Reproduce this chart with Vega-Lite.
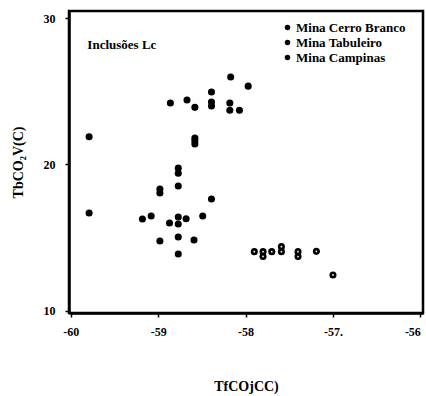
{
  "$schema": "https://vega.github.io/schema/vega-lite/v6.json",
  "autosize": "none",
  "width": 354,
  "height": 302,
  "padding": {"left": 69, "top": 11, "right": 3, "bottom": 83},
  "background": "white",
  "config": {
    "view": {"stroke": "black", "strokeWidth": 2.5},
    "font": "Liberation Serif",
    "axis": {
      "grid": false,
      "domainColor": "black",
      "domainWidth": 2.5,
      "tickColor": "black",
      "tickWidth": 1.5,
      "tickSize": 4,
      "labelFont": "Liberation Serif",
      "labelFontWeight": "bold",
      "labelFontSize": 12,
      "labelColor": "black",
      "titleFont": "Liberation Serif",
      "titleFontWeight": "bold",
      "titleFontSize": 14,
      "titleColor": "black"
    }
  },
  "data": {
    "values": [
      {"mina": "Mina Tabuleiro", "tf": -59.79, "tb": 21.9},
      {"mina": "Mina Tabuleiro", "tf": -58.86, "tb": 24.2},
      {"mina": "Mina Tabuleiro", "tf": -58.67, "tb": 24.4},
      {"mina": "Mina Tabuleiro", "tf": -58.58, "tb": 23.9},
      {"mina": "Mina Tabuleiro", "tf": -58.39, "tb": 24.95},
      {"mina": "Mina Tabuleiro", "tf": -58.39, "tb": 24.27},
      {"mina": "Mina Tabuleiro", "tf": -58.39, "tb": 23.99},
      {"mina": "Mina Tabuleiro", "tf": -58.17, "tb": 25.97},
      {"mina": "Mina Tabuleiro", "tf": -57.97, "tb": 25.35},
      {"mina": "Mina Tabuleiro", "tf": -58.18, "tb": 24.2},
      {"mina": "Mina Tabuleiro", "tf": -58.18, "tb": 23.7},
      {"mina": "Mina Tabuleiro", "tf": -58.07, "tb": 23.7},
      {"mina": "Mina Tabuleiro", "tf": -58.58, "tb": 21.8},
      {"mina": "Mina Tabuleiro", "tf": -58.58, "tb": 21.6},
      {"mina": "Mina Tabuleiro", "tf": -58.58, "tb": 21.4},
      {"mina": "Mina Tabuleiro", "tf": -58.77, "tb": 19.75},
      {"mina": "Mina Tabuleiro", "tf": -58.77, "tb": 19.4},
      {"mina": "Mina Cerro Branco", "tf": -58.77, "tb": 18.53},
      {"mina": "Mina Cerro Branco", "tf": -58.98, "tb": 18.33},
      {"mina": "Mina Cerro Branco", "tf": -58.98, "tb": 18.05},
      {"mina": "Mina Cerro Branco", "tf": -58.39, "tb": 17.64},
      {"mina": "Mina Cerro Branco", "tf": -59.79, "tb": 16.69},
      {"mina": "Mina Cerro Branco", "tf": -59.18, "tb": 16.28},
      {"mina": "Mina Cerro Branco", "tf": -59.08, "tb": 16.48},
      {"mina": "Mina Cerro Branco", "tf": -58.87, "tb": 16.0},
      {"mina": "Mina Cerro Branco", "tf": -58.77, "tb": 16.42},
      {"mina": "Mina Cerro Branco", "tf": -58.77, "tb": 15.94},
      {"mina": "Mina Cerro Branco", "tf": -58.68, "tb": 16.3},
      {"mina": "Mina Cerro Branco", "tf": -58.49, "tb": 16.48},
      {"mina": "Mina Cerro Branco", "tf": -58.98, "tb": 14.78},
      {"mina": "Mina Cerro Branco", "tf": -58.77, "tb": 15.05},
      {"mina": "Mina Cerro Branco", "tf": -58.59, "tb": 14.85},
      {"mina": "Mina Cerro Branco", "tf": -58.77, "tb": 13.89},
      {"mina": "Mina Campinas", "tf": -57.9, "tb": 14.05},
      {"mina": "Mina Campinas", "tf": -57.8, "tb": 14.05},
      {"mina": "Mina Campinas", "tf": -57.8, "tb": 13.72},
      {"mina": "Mina Campinas", "tf": -57.7, "tb": 14.05},
      {"mina": "Mina Campinas", "tf": -57.59, "tb": 14.39},
      {"mina": "Mina Campinas", "tf": -57.59, "tb": 14.05},
      {"mina": "Mina Campinas", "tf": -57.4, "tb": 14.05},
      {"mina": "Mina Campinas", "tf": -57.4, "tb": 13.71},
      {"mina": "Mina Campinas", "tf": -57.19, "tb": 14.07},
      {"mina": "Mina Campinas", "tf": -57.0, "tb": 12.46}
    ]
  },
  "layer": [
    {
      "mark": {"type": "point", "shape": "circle", "filled": true, "size": 50, "opacity": 1},
      "encoding": {
        "x": {
          "field": "tf", "type": "quantitative",
          "scale": {"domain": [-60.02, -55.97], "nice": false, "zero": false},
          "axis": {
            "values": [-60, -59, -58, -57, -56],
            "labelExpr": "datum.value == -57 ? '-57.' : '-' + abs(datum.value)",
            "labelAlign": {"expr": "datum.value == -56 ? 'right' : 'center'"},
            "labelBound": false,
            "labelPadding": 9,
            "title": "TfCOjCC)",
            "titlePadding": 42
          }
        },
        "y": {
          "field": "tb", "type": "quantitative",
          "scale": {"domain": [9.86, 30.48], "nice": false, "zero": false},
          "axis": {
            "values": [10, 20, 30],
            "labelPadding": 10,
            "title": "TbCO₂V(C)",
            "titlePadding": 18
          }
        },
        "color": {
          "field": "mina", "type": "nominal",
          "scale": {"domain": ["Mina Cerro Branco", "Mina Tabuleiro", "Mina Campinas"], "range": ["black", "black", "black"]},
          "legend": {
            "title": null,
            "orient": "none",
            "legendX": 212,
            "legendY": 10,
            "padding": 0,
            "symbolType": "circle",
            "symbolSize": 30,
            "symbolFillColor": "black",
            "labelFont": "Liberation Serif",
            "labelFontWeight": "bold",
            "labelFontSize": 13,
            "labelColor": "black",
            "labelOffset": 2,
            "labelLimit": 200,
            "rowPadding": 1
          }
        }
      }
    },
    {
      "transform": [{"filter": "datum.mina == 'Mina Campinas'"}],
      "mark": {"type": "point", "shape": "circle", "filled": true, "size": 3, "color": "white", "opacity": 1},
      "encoding": {
        "x": {"field": "tf", "type": "quantitative"},
        "y": {"field": "tb", "type": "quantitative"}
      }
    },
    {
      "data": {"values": [{"note": "Inclusões Lc"}]},
      "mark": {"type": "text", "align": "left", "baseline": "middle", "font": "Liberation Serif", "fontWeight": "bold", "fontSize": 13, "color": "black"},
      "encoding": {
        "x": {"datum": -59.81},
        "y": {"datum": 28.16},
        "text": {"field": "note", "type": "nominal"}
      }
    }
  ]
}
